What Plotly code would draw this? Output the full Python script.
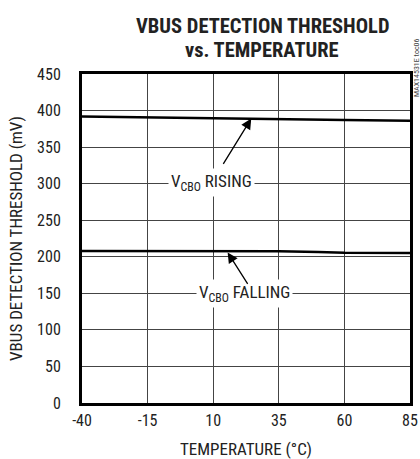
import plotly.graph_objects as go

temps = [-40, -15, 10, 25, 35, 50, 60, 85]
rising_mv = [392, 390.5, 389.5, 389, 388.5, 387.5, 387, 386]
falling_mv = [208, 208, 208, 207.8, 207.5, 206.5, 205.5, 205]
x_ticks = [-40, -15, 10, 35, 60, 85]
y_ticks = [0, 50, 100, 150, 200, 250, 300, 350, 400, 450]

FONT = "Roboto Condensed, Liberation Sans Narrow, Arial Narrow, Liberation Sans, Arial, sans-serif"

fig = go.Figure()
fig.add_trace(go.Scatter(x=temps, y=rising_mv, mode="lines",
                         line=dict(color="black", width=2.5), showlegend=False))
fig.add_trace(go.Scatter(x=temps, y=falling_mv, mode="lines",
                         line=dict(color="black", width=2.5), showlegend=False))

# labels (white boxes break the gridlines)
fig.add_annotation(x=9.5, y=302, xref="x", yref="y", text="V<sub>CBO</sub> RISING",
                   showarrow=False, bgcolor="white", borderpad=2,
                   font=dict(family=FONT, size=17, color="#222"))
fig.add_annotation(x=22, y=150, xref="x", yref="y", text="V<sub>CBO</sub> FALLING",
                   showarrow=False, bgcolor="white", borderpad=2,
                   font=dict(family=FONT, size=17, color="#222"))
# arrows
fig.add_annotation(x=24.5, y=389, ax=13.5, ay=325, xref="x", yref="y", axref="x", ayref="y",
                   text="", showarrow=True, arrowhead=2, arrowsize=1.6, arrowwidth=1.3,
                   arrowcolor="black")
fig.add_annotation(x=15.5, y=206, ax=23.5, ay=161, xref="x", yref="y", axref="x", ayref="y",
                   text="", showarrow=True, arrowhead=2, arrowsize=1.6, arrowwidth=1.3,
                   arrowcolor="black")
# side label
fig.add_annotation(x=1.0, y=1.018, xref="paper", yref="paper", text="MAX14531E toc06",
                   showarrow=False, textangle=-90, xanchor="center", yanchor="middle", xshift=6,
                   font=dict(family=FONT, size=8, color="#444"))
# title
fig.add_annotation(x=0.549, y=1.145, xref="paper", yref="paper",
                   text="<b>VBUS DETECTION THRESHOLD</b>",
                   showarrow=False, xanchor="center", yanchor="middle",
                   font=dict(family=FONT, size=20.5, color="#222"))
fig.add_annotation(x=0.549, y=1.074, xref="paper", yref="paper",
                   text="<b>vs. TEMPERATURE</b>",
                   showarrow=False, xanchor="center", yanchor="middle",
                   font=dict(family=FONT, size=20.5, color="#222"))

fig.update_layout(
    width=420, height=459,
    margin=dict(l=82, r=10, t=74, b=56),
    paper_bgcolor="white", plot_bgcolor="white",
    font=dict(family=FONT, color="#222"),
)
fig.update_xaxes(range=[-40, 85], tickvals=x_ticks, ticktext=[str(v) for v in x_ticks],
                 showgrid=True, gridcolor="#444", gridwidth=1, automargin=False,
                 showline=True, linecolor="black", linewidth=3, mirror=True,
                 ticks="", zeroline=False, tickfont=dict(size=16), ticklabelstandoff=1,
                 title=dict(text="TEMPERATURE (°C)", font=dict(size=17), standoff=15))
fig.update_yaxes(range=[0, 450], tickvals=y_ticks,
                 showgrid=True, gridcolor="#444", gridwidth=1, automargin=False,
                 showline=True, linecolor="black", linewidth=3, mirror=True,
                 ticks="", zeroline=False, tickfont=dict(size=16), ticklabelstandoff=15,
                 title=dict(text="VBUS DETECTION THRESHOLD (mV)", font=dict(size=17), standoff=11))

fig.write_html("out.html", config={"displayModeBar": False},
               post_script="document.body.style.margin='0';document.body.style.overflow='hidden';")
